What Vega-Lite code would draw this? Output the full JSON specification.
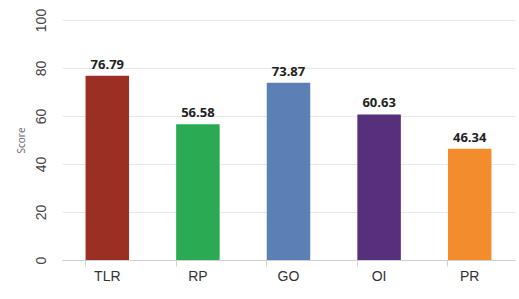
{
  "$schema": "https://vega.github.io/schema/vega-lite/v6.json",
  "width": 453,
  "height": 240,
  "autosize": {"type": "none"},
  "padding": {"left": 62, "top": 20, "right": 4, "bottom": 39},
  "background": "white",
  "config": {"view": {"stroke": null}},
  "data": {
    "values": [
      {"cat": "TLR", "score": 76.79},
      {"cat": "RP", "score": 56.58},
      {"cat": "GO", "score": 73.87},
      {"cat": "OI", "score": 60.63},
      {"cat": "PR", "score": 46.34}
    ]
  },
  "encoding": {
    "x": {
      "field": "cat", "type": "nominal", "sort": null,
      "scale": {"paddingInner": 0.52, "paddingOuter": 0.26},
      "axis": {
        "title": null, "labelAngle": 0, "labelFont": "Liberation Sans", "labelFontSize": 14,
        "labelColor": "#333", "labelPadding": 3, "domainColor": "#d0d0d0", "tickColor": "#d0d0d0",
        "tickSize": 6, "bandPosition": 0, "grid": false
      }
    },
    "y": {
      "field": "score", "type": "quantitative",
      "scale": {"domain": [0, 100]},
      "axis": {
        "title": "Score", "titleFont": "Open Sans", "titleFontSize": 10, "titleFontWeight": "normal",
        "titleColor": "#666", "titlePadding": 8,
        "values": [0, 20, 40, 60, 80, 100],
        "labelAngle": -90, "labelAlign": "center", "labelBaseline": "bottom",
        "labelFont": "Liberation Sans", "labelFontSize": 14, "labelColor": "#444", "labelPadding": 14,
        "domain": false, "ticks": false, "gridColor": "#e8e8e8"
      }
    }
  },
  "layer": [
    {
      "mark": {"type": "bar"},
      "encoding": {
        "color": {
          "field": "cat", "type": "nominal", "legend": null,
          "scale": {"domain": ["TLR", "RP", "GO", "OI", "PR"], "range": ["#9b2f24", "#2aaa52", "#5b80b5", "#56307a", "#f28c2c"]}
        }
      }
    },
    {
      "mark": {"type": "text", "baseline": "bottom", "dy": -4, "font": "Open Sans", "fontSize": 13, "fontWeight": "bold", "color": "#222"},
      "encoding": {"text": {"field": "score", "type": "quantitative", "format": ".2f"}}
    }
  ]
}
